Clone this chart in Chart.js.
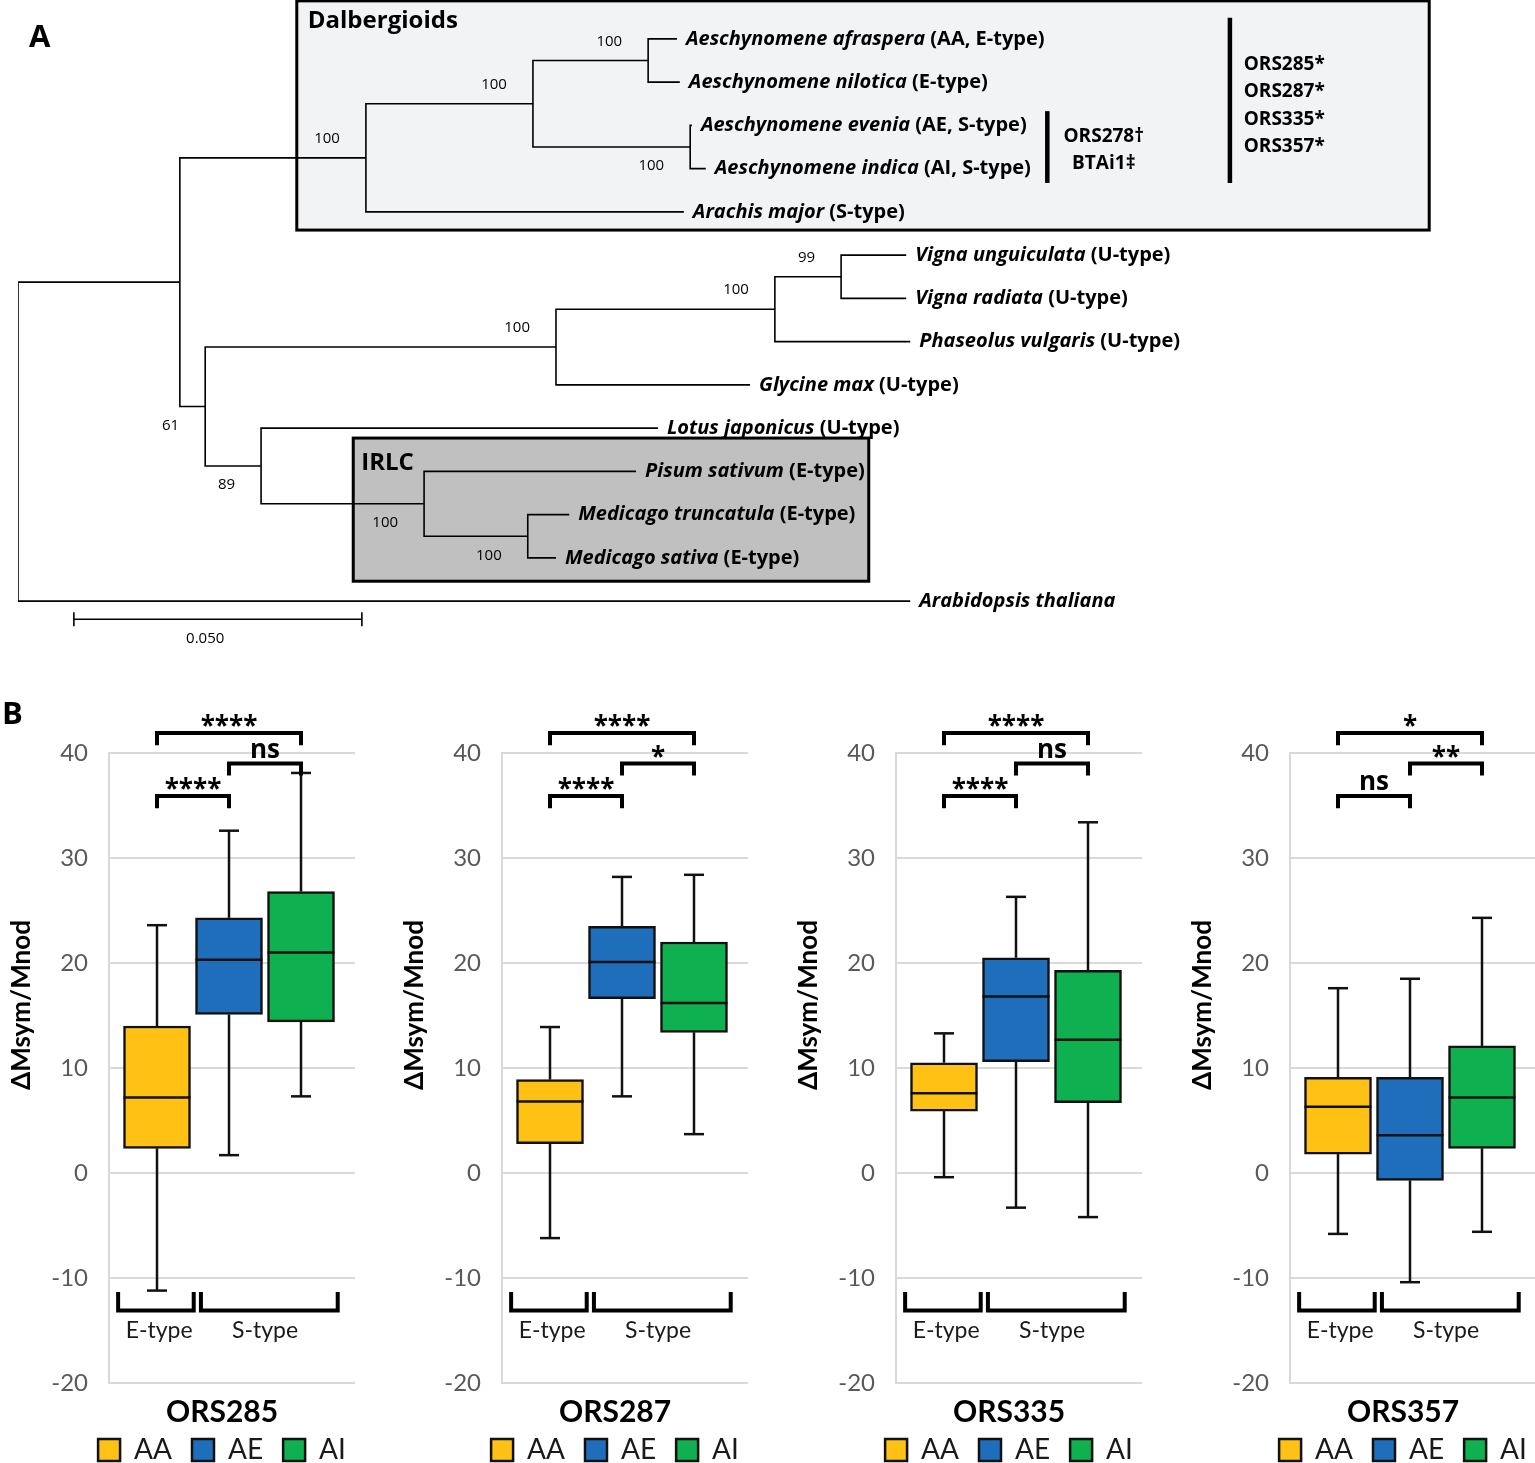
<!DOCTYPE html>
<html>
<head>
<meta charset="utf-8">
<title>Phylogeny and ΔMsym/Mnod box plots</title>
<script src="https://cdn.jsdelivr.net/npm/chart.js@4.4.1/dist/chart.umd.min.js"></script>
<style>
  html, body { margin: 0; padding: 0; background: #ffffff; overflow: hidden; }
  body { position: relative; width: 1535px; height: 1463px; }
  canvas { position: absolute; }
</style>
</head>
<body>
<canvas id="tree" width="1535" height="653" style="left:0;top:0"></canvas>
<canvas id="ors0" width="444" height="814" style="left:0;top:660px"></canvas>
<canvas id="ors1" width="444" height="814" style="left:393px;top:660px"></canvas>
<canvas id="ors2" width="444" height="814" style="left:787px;top:660px"></canvas>
<canvas id="ors3" width="444" height="814" style="left:1181px;top:660px"></canvas>
<script>
// ---------- Panel A: tree data ----------
const tipNames = [
  "Aeschynomene afraspera", "Aeschynomene nilotica", "Aeschynomene evenia",
  "Aeschynomene indica", "Arachis major", "Vigna unguiculata", "Vigna radiata",
  "Phaseolus vulgaris", "Glycine max", "Lotus japonicus", "Pisum sativum",
  "Medicago truncatula", "Medicago sativa", "Arabidopsis thaliana",
];
const tipTypes = [
  "(AA, E-type)", "(E-type)", "(AE, S-type)", "(AI, S-type)", "(S-type)",
  "(U-type)", "(U-type)", "(U-type)", "(U-type)", "(U-type)",
  "(E-type)", "(E-type)", "(E-type)", "",
];
// distance from the root (substitutions per site)
const tipDepths = [
  0.1144, 0.1149, 0.117, 0.1194, 0.1156, 0.1542, 0.1542,
  0.1549, 0.1271, 0.1111, 0.1073, 0.0957, 0.0934, 0.1549,
];
const nodeDepths = {
  root: 0, n1: 0.0281, dalb: 0.0604, aesc: 0.0894, afra: 0.1094, even: 0.1167,
  n61: 0.0325, n100: 0.0934, n775: 0.1314, n841: 0.1429, n89: 0.0422,
  irlc: 0.0705, medi: 0.0885,
};
const nodeChildren = {
  root: ["n1", 13], n1: ["dalb", "n61"], dalb: ["aesc", 4], aesc: ["afra", "even"],
  afra: [0, 1], even: [2, 3], n61: ["n100", "n89"], n100: ["n775", 8],
  n775: ["n841", 7], n841: [5, 6], n89: [9, "irlc"], irlc: [10, "medi"], medi: [11, 12],
};
const bootstrap = {
  dalb: 100, aesc: 100, afra: 100, even: 100, n61: 61, n100: 100,
  n775: 100, n841: 99, n89: 89, irlc: 100, medi: 100,
};
const scaleBarLength = 0.05;

// ---------- Panel B: box plot data ----------
const strains = ["ORS285", "ORS287", "ORS335", "ORS357"];
const groups = ["AA", "AE", "AI"];
const whiskerLow = [[-11.2, 1.7, 7.3], [-6.2, 7.3, 3.7], [-0.4, -3.3, -4.2], [-5.8, -10.4, -5.6]];
const quartile1 = [[2.35, 15.1, 14.4], [2.8, 16.6, 13.4], [5.9, 10.6, 6.7], [1.8, -0.7, 2.35]];
const medians = [[7.2, 20.3, 21.0], [6.8, 20.1, 16.2], [7.6, 16.8, 12.7], [6.3, 3.6, 7.2]];
const quartile3 = [[14.0, 24.3, 26.8], [8.9, 23.5, 22.0], [10.5, 20.5, 19.3], [9.1, 9.1, 12.1]];
const whiskerHigh = [[23.6, 32.6, 38.1], [13.9, 28.2, 28.4], [13.3, 26.3, 33.4], [17.6, 18.5, 24.3]];
const sigAAvsAI = ["****", "****", "****", "*"];
const sigAEvsAI = ["ns", "*", "ns", "**"];
const sigAAvsAE = ["****", "****", "****", "ns"];
const typeLabels = ["E-type", "S-type"];
const yTicks = [-20, -10, 0, 10, 20, 30, 40];

// ---------- styles / layout ----------
const groupColors = ["#FFC114", "#1F6EBC", "#0EB04F"];
const cladeBoxes = [
  { label: "Dalbergioids", x0: 0.0484, x1: 0.245, r0: -0.88, r1: 4.42, fill: "#f2f3f5", dx: 11, dy: 20 },
  { label: "IRLC", x0: 0.0582, x1: 0.1477, r0: 9.23, r1: 12.54, fill: "#c0c0c0", dx: 8, dy: 25 },
];
const strainMarks = [
  { names: ["ORS278†", "BTAi1‡"], barX: 0.1787, r0: 1.67, r1: 3.33, textX: 0.1885, textRow: 2.57, align: "center" },
  { names: ["ORS285*", "ORS287*", "ORS335*", "ORS357*"], barX: 0.2104, r0: -0.49, r1: 3.33, textX: 0.2128, textRow: 1.54, align: "left" },
];
const bootBelow = ["even", "n61", "n89", "irlc", "medi"];
const sigLayout = [
  { from: 0, to: 2, level: 41.9, labels: sigAAvsAI },
  { from: 1, to: 2, level: 39.0, labels: sigAEvsAI },
  { from: 0, to: 1, level: 35.9, labels: sigAAvsAE },
];
const typeSpans = [[0.46, 1.51], [1.61, 3.51]];
const typeLabelX = [1.03, 2.5];

function isTip(id) {
  return typeof id === "number";
}
function depthOf(id) {
  return isTip(id) ? tipDepths[id] : nodeDepths[id];
}
function rowOf(id) {
  if (isTip(id)) return id;
  const kids = nodeChildren[id];
  return (rowOf(kids[0]) + rowOf(kids[kids.length - 1])) / 2;
}

// one polyline per internal node: child A -> node -> child B
const branchSets = Object.keys(nodeChildren).map((id) => {
  const [a, b] = nodeChildren[id];
  const d = nodeDepths[id];
  return {
    label: id,
    data: [
      { x: depthOf(a), y: rowOf(a) },
      { x: d, y: rowOf(a) },
      { x: d, y: rowOf(b) },
      { x: depthOf(b), y: rowOf(b) },
    ],
    showLine: true,
    borderColor: "#000",
    borderWidth: 1.6,
    pointRadius: 0,
    tension: 0,
  };
});

const treeExtras = {
  id: "treeExtras",
  beforeDatasetsDraw(chart) {
    const { ctx, scales: { x, y } } = chart;
    ctx.save();
    cladeBoxes.forEach((b) => {
      const l = x.getPixelForValue(b.x0), r = x.getPixelForValue(b.x1);
      const t = y.getPixelForValue(b.r0), btm = y.getPixelForValue(b.r1);
      ctx.fillStyle = b.fill;
      ctx.fillRect(l, t, r - l, btm - t);
      ctx.lineWidth = 3;
      ctx.strokeStyle = "#000";
      ctx.strokeRect(l, t, r - l, btm - t);
      ctx.fillStyle = "#000";
      ctx.font = 'bold 24px "Open Sans"';
      ctx.textAlign = "left";
      ctx.textBaseline = "middle";
      ctx.fillText(b.label, l + b.dx, t + b.dy);
    });
    ctx.restore();
  },
  afterDatasetsDraw(chart) {
    const { ctx, scales: { x, y } } = chart;
    ctx.save();
    ctx.fillStyle = "#000";
    ctx.textBaseline = "middle";
    ctx.textAlign = "left";
    // tip labels: italic species + upright type
    tipNames.forEach((name, i) => {
      const px = x.getPixelForValue(tipDepths[i]) + 9;
      const py = y.getPixelForValue(i);
      ctx.font = 'italic bold 20px "Open Sans"';
      ctx.fillText(name, px, py);
      const w = ctx.measureText(name).width;
      if (tipTypes[i]) {
        ctx.font = 'bold 20px "Open Sans"';
        ctx.fillText(" " + tipTypes[i], px + w, py);
      }
    });
    // bootstrap values
    ctx.font = '15px "Open Sans"';
    ctx.textAlign = "right";
    Object.keys(bootstrap).forEach((id) => {
      const px = x.getPixelForValue(nodeDepths[id]) - 26;
      const py = y.getPixelForValue(rowOf(id)) + (bootBelow.includes(id) ? 19 : -19);
      ctx.fillText(String(bootstrap[id]), px, py);
    });
    // strain bars
    strainMarks.forEach((m) => {
      const bx = x.getPixelForValue(m.barX);
      ctx.lineWidth = 4.5;
      ctx.strokeStyle = "#000";
      ctx.beginPath();
      ctx.moveTo(bx, y.getPixelForValue(m.r0));
      ctx.lineTo(bx, y.getPixelForValue(m.r1));
      ctx.stroke();
      ctx.font = 'bold 19px "Open Sans"';
      ctx.textAlign = m.align;
      const cy = y.getPixelForValue(m.textRow);
      const step = 27.3;
      m.names.forEach((n, i) => {
        ctx.fillText(n, x.getPixelForValue(m.textX), cy + (i - (m.names.length - 1) / 2) * step);
      });
    });
    // scale bar
    const sx0 = x.getPixelForValue(0.0097);
    const sx1 = x.getPixelForValue(0.0097 + scaleBarLength);
    const sy = y.getPixelForValue(13.42);
    ctx.lineWidth = 1.6;
    ctx.beginPath();
    ctx.moveTo(sx0, sy); ctx.lineTo(sx1, sy);
    ctx.moveTo(sx0, sy - 7); ctx.lineTo(sx0, sy + 7);
    ctx.moveTo(sx1, sy - 7); ctx.lineTo(sx1, sy + 7);
    ctx.stroke();
    ctx.font = '15px "Open Sans"';
    ctx.textAlign = "center";
    ctx.fillText(scaleBarLength.toFixed(3), x.getPixelForValue(0.0325), y.getPixelForValue(13.86));
    // panel letter
    ctx.font = 'bold 31px "Open Sans"';
    ctx.textAlign = "left";
    ctx.textBaseline = "alphabetic";
    ctx.fillText("A", 29, 47);
    ctx.restore();
  },
};

new Chart(document.getElementById("tree"), {
  type: "scatter",
  data: { datasets: branchSets },
  options: {
    responsive: false,
    animation: false,
    layout: { padding: { left: 18, right: 19.4, top: 0, bottom: 0 } },
    plugins: { legend: { display: false }, tooltip: { enabled: false } },
    scales: {
      x: { type: "linear", display: false, min: 0, max: 0.26 },
      y: { type: "linear", display: false, min: -0.9, max: 14.2, reverse: true },
    },
  },
  plugins: [treeExtras],
});

// ---------- Panel B charts ----------
function drawLine(ctx, pts) {
  ctx.beginPath();
  ctx.moveTo(pts[0][0], pts[0][1]);
  for (let i = 1; i < pts.length; i++) ctx.lineTo(pts[i][0], pts[i][1]);
  ctx.stroke();
}

const boxExtras = {
  id: "boxExtras",
  afterLayout(chart) {
    // centre the title and legend on the whole canvas (x = 222)
    [chart.titleBlock, chart.legend].forEach((b) => {
      if (!b) return;
      b.left = 0;
      b.right = chart.width;
    });
  },
  afterDatasetsDraw(chart, args, opts) {
    const k = opts.strain;
    const { ctx, scales: { x, y } } = chart;
    ctx.save();
    ctx.strokeStyle = "#111";
    ctx.lineWidth = 2.5;
    groups.forEach((g, j) => {
      const bar = chart.getDatasetMeta(j).data[0];
      const half = bar.getProps(["width"], true).width / 2;
      const cx = x.getPixelForValue(j + 1);
      const pHi = y.getPixelForValue(whiskerHigh[k][j]);
      const pLo = y.getPixelForValue(whiskerLow[k][j]);
      drawLine(ctx, [[cx, y.getPixelForValue(quartile3[k][j])], [cx, pHi]]);
      drawLine(ctx, [[cx - 10, pHi], [cx + 10, pHi]]);
      drawLine(ctx, [[cx, y.getPixelForValue(quartile1[k][j])], [cx, pLo]]);
      drawLine(ctx, [[cx - 10, pLo], [cx + 10, pLo]]);
      const pMed = y.getPixelForValue(medians[k][j]);
      drawLine(ctx, [[cx - half, pMed], [cx + half, pMed]]);
    });
    ctx.restore();
  },
  afterDraw(chart, args, opts) {
    const k = opts.strain;
    const { ctx, scales: { x, y } } = chart;
    ctx.save();
    ctx.strokeStyle = "#000";
    ctx.fillStyle = "#000";
    ctx.lineWidth = 4;
    ctx.lineJoin = "miter";
    ctx.lineCap = "butt";
    // significance brackets
    ctx.font = 'bold 26px "Open Sans"';
    ctx.textAlign = "center";
    ctx.textBaseline = "alphabetic";
    sigLayout.forEach((s) => {
      const x1 = x.getPixelForValue(s.from + 1);
      const x2 = x.getPixelForValue(s.to + 1);
      const yl = y.getPixelForValue(s.level);
      const yLeg = y.getPixelForValue(s.level - 1.15);
      drawLine(ctx, [[x1, yLeg], [x1, yl], [x2, yl], [x2, yLeg]]);
      const label = s.labels[k];
      const m = ctx.measureText(label);
      const bottom = yl - 2 - 4;
      ctx.fillText(label, (x1 + x2) / 2, bottom - m.actualBoundingBoxDescent);
    });
    // E-type / S-type brackets
    const yTop = y.getPixelForValue(-11.33);
    const yBot = y.getPixelForValue(-13.1);
    typeSpans.forEach((sp) => {
      const x1 = x.getPixelForValue(sp[0]);
      const x2 = x.getPixelForValue(sp[1]);
      drawLine(ctx, [[x1, yTop], [x1, yBot], [x2, yBot], [x2, yTop]]);
    });
    ctx.font = '23px "Lato"';
    ctx.fillStyle = "#1a1a1a";
    ctx.textBaseline = "middle";
    typeLabels.forEach((t, i) => {
      ctx.fillText(t, x.getPixelForValue(typeLabelX[i]), y.getPixelForValue(-15.05));
    });
    // y-axis title
    ctx.save();
    ctx.translate(22, 345);
    ctx.rotate(-Math.PI / 2);
    ctx.font = 'bold 26px "Lato"';
    ctx.fillStyle = "#000";
    ctx.fillText("ΔMsym/Mnod", 0, 0);
    ctx.restore();
    if (k === 0) {
      ctx.font = 'bold 31px "Open Sans"';
      ctx.fillStyle = "#000";
      ctx.textAlign = "left";
      ctx.textBaseline = "alphabetic";
      ctx.fillText("B", 2, 64);
    }
    ctx.restore();
  },
};

strains.forEach((strain, k) => {
  new Chart(document.getElementById("ors" + k), {
    type: "bar",
    data: {
      datasets: groups.map((g, j) => ({
        label: g,
        data: [{ x: j + 1, y: [quartile1[k][j], quartile3[k][j]] }],
        backgroundColor: groupColors[j],
        borderColor: "#111",
        borderWidth: 2.5,
        borderSkipped: false,
        barThickness: 67,
        grouped: false,
      })),
    },
    options: {
      responsive: false,
      animation: false,
      layout: { padding: { left: 2, right: 89, top: 93, bottom: 0 } },
      scales: {
        x: { type: "linear", display: false, offset: false, min: 0.3333, max: 3.75 },
        y: {
          min: yTicks[0],
          max: yTicks[yTicks.length - 1],
          afterFit: (s) => { s.width = 107; },
          afterBuildTicks: (s) => { s.ticks = yTicks.map((v) => ({ value: v })); },
          ticks: { padding: 21, color: "#595959", font: { family: "Lato", size: 24 } },
          grid: { color: "#d9d9d9", lineWidth: 2, drawTicks: false },
          border: { color: "#d9d9d9", width: 2 },
        },
      },
      plugins: {
        tooltip: { enabled: false },
        title: {
          display: true,
          text: strain,
          position: "bottom",
          weight: 500,
          color: "#000",
          font: { family: "Lato", size: 30, weight: "bold" },
          padding: { top: 11, bottom: -14 },
        },
        legend: {
          position: "bottom",
          weight: 1000,
          labels: {
            boxWidth: 22,
            boxHeight: 22,
            padding: 20,
            color: "#1a1a1a",
            font: { family: "Lato", size: 28 },
          },
        },
        boxExtras: { strain: k },
      },
    },
    plugins: [boxExtras],
  });
});
</script>
</body>
</html>
